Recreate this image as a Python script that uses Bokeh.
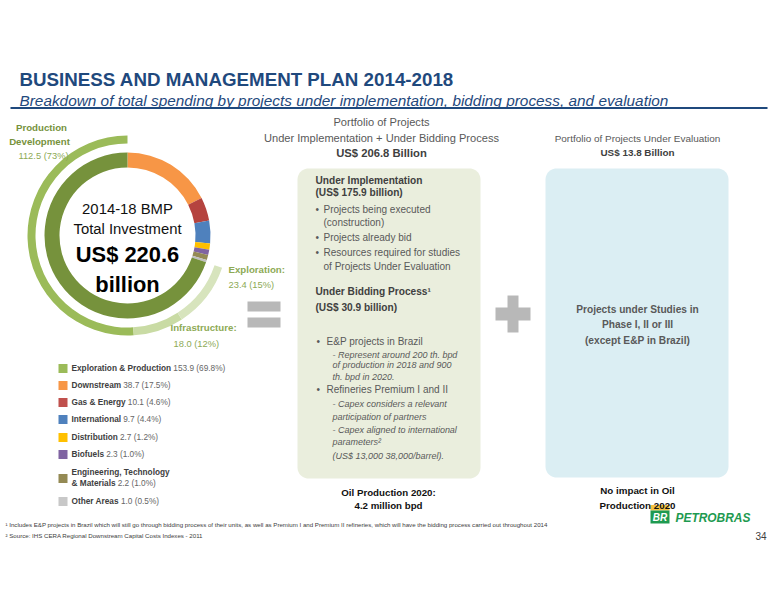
import numpy as np
from bokeh.plotting import figure
from bokeh.models import Range1d, Label, ColumnDataSource
from bokeh.embed import file_html
from bokeh.resources import INLINE

# ---------------- data ----------------
segments = ["Exploration & Production", "Downstream", "Gas & Energy", "International",
            "Distribution", "Biofuels", "Engineering, Technology & Materials", "Other Areas"]
values = [153.9, 38.7, 10.1, 9.7, 2.7, 2.3, 2.2, 1.0]
shares = ["69.8%", "17.5%", "4.6%", "4.4%", "1.2%", "1.0%", "1.0%", "0.5%"]
ring_colors = ["#76923C", "#F79646", "#B5433F", "#4F81BD", "#FFC000", "#8064A2", "#948A54", "#BFBFBF"]
legend_colors = ["#9BBB59", "#F79646", "#C0504D", "#4F81BD", "#FFC000", "#8064A2", "#948A54", "#C8C8C8"]

ep_parts = ["Production Development", "Infrastructure", "Exploration"]
ep_values = [112.5, 18.0, 23.4]
ep_shares = ["73%", "12%", "15%"]
ep_colors = ["#9BBB59", "#C9DBA4", "#D7E4BD"]

total_investment = 220.6
portfolio_impl_bid = 206.8
impl_value = 175.9
bid_value = 30.9
evaluation_value = 13.8

FONT = "Liberation Sans"
H = 600
W = 768

# ---------------- text metrics (Arial-compatible) for sizing ----------------
_UP = "ABCDEFGHIJKLMNOPQRSTUVWXYZ"
_LO = "abcdefghijklmnopqrstuvwxyz"
REG = {" ": 278, "!": 278, "$": 556, "%": 889, "&": 667, "(": 333, ")": 333, "+": 584, ",": 278,
       "-": 333, ".": 278, "/": 278, ":": 278, "\u2022": 350, "\u00b9": 333, "\u00b2": 333}
BOLD = {" ": 278, "!": 333, "$": 556, "%": 889, "&": 722, "(": 333, ")": 333, "+": 584, ",": 278,
        "-": 333, ".": 278, "/": 278, ":": 333, "\u2022": 350, "\u00b9": 333, "\u00b2": 333}
REG.update(zip(_UP, [667, 667, 722, 722, 667, 611, 778, 722, 278, 500, 667, 556, 833, 722, 778, 667,
                     778, 722, 667, 611, 722, 667, 944, 667, 667, 611]))
REG.update(zip(_LO, [556, 556, 500, 556, 556, 278, 556, 556, 222, 222, 500, 222, 833, 556, 556, 556,
                     556, 333, 500, 278, 556, 500, 722, 500, 500, 500]))
BOLD.update(zip(_UP, [722, 722, 722, 722, 667, 611, 778, 722, 278, 556, 722, 611, 833, 722, 778, 667,
                      778, 722, 667, 611, 722, 667, 944, 667, 667, 611]))
BOLD.update(zip(_LO, [556, 611, 556, 611, 556, 333, 611, 611, 278, 278, 556, 278, 889, 611, 611, 611,
                      611, 389, 556, 333, 611, 556, 778, 556, 556, 500]))


def em(s, bold=False):
    t = BOLD if bold else REG
    return sum(t.get(c, 556) for c in s) / 1000.0


def fit(s, width, bold=False, k=1.0):
    return round(width / em(s, bold) * k, 2)


def Y(y):
    return H - y


p = figure(width=W, height=584, x_range=Range1d(0, W), y_range=Range1d(16, 600),
           output_backend="svg", toolbar_location=None, x_axis_type=None, y_axis_type=None,
           min_border=0, background_fill_color="white", border_fill_color="white")
p.outline_line_color = None
p.xgrid.visible = False
p.ygrid.visible = False


def T(x, y, s, size=11, color="#595959", bold=False, italic=False, align="left",
      font=FONT, baseline="middle"):
    style = "normal"
    if bold and italic:
        style = "bold italic"
    elif bold:
        style = "bold"
    elif italic:
        style = "italic"
    p.add_layout(Label(x=x, y=Y(y), text=s, text_font=font, text_font_size=f"{size}px",
                       text_color=color, text_font_style=style, text_align=align,
                       text_baseline=baseline))


def rbox(x0, y0, x1, y1, r, color):
    top, bot = Y(y0), Y(y1)
    xs, ys = [], []
    for cx, cy, a0 in [(x1 - r, top - r, 0), (x0 + r, top - r, 90),
                       (x0 + r, bot + r, 180), (x1 - r, bot + r, 270)]:
        a = np.deg2rad(np.linspace(a0, a0 + 90, 12))
        xs.extend(cx + r * np.cos(a))
        ys.extend(cy + r * np.sin(a))
    p.patch(xs, ys, fill_color=color, line_color=None)


# ---------------- title ----------------
title = "BUSINESS AND MANAGEMENT PLAN 2014-2018"
subtitle = "Breakdown of total spending by projects under implementation, bidding process, and evaluation"
T(19, 79, title, size=fit(title, 418, True, 1.04), color="#1F497D", bold=True, baseline="alphabetic")
T(19, 100, subtitle, size=fit(subtitle, 636, False, 1.02), color="#1F497D", italic=True,
  baseline="alphabetic")
p.segment(x0=[10], y0=[Y(107.5)], x1=[767], y1=[Y(107.5)], line_color="#1F497D", line_width=2)

# ---------------- donut ----------------
cx, cy = 127, Y(235)
total = sum(values)
order = list(range(1, len(values))) + [0]
starts, ends, cols = [], [], []
cum = 0.0
for i in order:
    f = values[i] / total
    ends.append(np.deg2rad(90 - cum * 360))
    starts.append(np.deg2rad(90 - (cum + f) * 360))
    cols.append(ring_colors[i])
    cum += f
inner = ColumnDataSource(dict(s=starts, e=ends, c=cols))
p.annular_wedge(x=cx, y=cy, inner_radius=68, outer_radius=83, start_angle="s", end_angle="e",
                fill_color="c", line_color=None, source=inner)

o_starts, o_ends = [], []
cum = 0.0
for v in ep_values:
    f = v / total
    o_starts.append(np.deg2rad(90 + cum * 360))
    o_ends.append(np.deg2rad(90 + (cum + f) * 360))
    cum += f
outer = ColumnDataSource(dict(s=o_starts, e=o_ends, c=ep_colors))
p.annular_wedge(x=cx, y=cy, inner_radius=92, outer_radius=100, start_angle="s", end_angle="e",
                fill_color="c", line_color=None, source=outer)

c_reg = fit("Total Investment", 98, False, 1.12)
c_bold = fit("US$ 220.6", 94, True, 1.1)
T(127, 208, "2014-18 BMP", size=c_reg, color="#111111", align="center")
T(127, 228, "Total Investment", size=c_reg, color="#111111", align="center")
T(127, 254, f"US$ {total_investment}", size=c_bold, color="#000000", bold=True, align="center")
T(127, 284, "billion", size=c_bold, color="#000000", bold=True, align="center")

# ring labels
rl_b = fit("Infrastructure:", 63, True, 1.05)
rl_r = fit("18.0 (12%)", 43.5, False, 1.05)
T(41, 127, "Production", size=rl_b, color="#76923C", bold=True, align="center")
T(39, 141, "Development", size=rl_b, color="#76923C", bold=True, align="center")
T(43, 155, f"{ep_values[0]} ({ep_shares[0]})", size=rl_r, color="#8DAA55", align="center")
T(228, 269, f"{ep_parts[2]}:", size=rl_b, color="#8DAA55", bold=True)
T(228, 284, f"{ep_values[2]} ({ep_shares[2]})", size=rl_r, color="#8DAA55")
T(170, 327, f"{ep_parts[1]}:", size=rl_b, color="#8DAA55", bold=True)
T(173, 343, f"{ep_values[1]} ({ep_shares[1]})", size=rl_r, color="#8DAA55")

# ---------------- legend ----------------
row_y = [368, 385, 402, 419, 437, 454, 478, 501]
lg = fit("Exploration & Production", 96, True, 1.04)
p.rect(x=[62.5] * len(row_y), y=[Y(v) for v in row_y], width=9, height=9,
       fill_color=legend_colors, line_color=None)
for k, name in enumerate(segments):
    vtxt = f"{values[k]} ({shares[k]})"
    if k == 6:
        T(71, 472, "Engineering, Technology", size=lg, color="#404040", bold=True)
        T(71, 483, "& Materials", size=lg, color="#404040", bold=True)
        T(71 + em("& Materials", True) * lg + 2, 483, vtxt, size=lg, color="#666666")
    else:
        T(71, row_y[k], name, size=lg, color="#404040", bold=True)
        T(71 + em(name, True) * lg + 2, row_y[k], vtxt, size=lg, color="#666666")

# ---------------- = and + ----------------
p.quad(left=[247, 247], right=[280, 280], top=[Y(301), Y(317)], bottom=[Y(311), Y(327)],
       fill_color="#B8B8B8", line_color=None)
p.quad(left=[495, 507], right=[530, 518], top=[Y(307), Y(295)], bottom=[Y(320), Y(332)],
       fill_color="#B8B8B8", line_color=None)

# ---------------- middle panel ----------------
pr = fit("Under Implementation + Under Bidding Process", 228, False, 1.03)
pb = fit("US$ 206.8 Billion", 88, True, 1.03)
T(381, 121, "Portfolio of Projects", size=pr, color="#595959", align="center")
T(381, 137, "Under Implementation + Under Bidding Process", size=pr, color="#595959", align="center")
T(381, 152, f"US$ {portfolio_impl_bid} Billion", size=pb, color="#404040", bold=True, align="center")

rbox(297, 168, 480, 478, 11, "#EAEEDD")
G = "#595959"
hb = fit("Under Implementation", 103, True, 1.04)
bl = fit("Projects being executed", 103, False, 1.04)
bl2 = fit("Refineries Premium I and II", 117, False, 1.04)
it = fit("- Capex aligned to international", 122, False, 1.02)
T(315, 180, "Under Implementation", size=hb, color="#404040", bold=True)
T(315, 192, f"(US$ {impl_value} billion)", size=hb, color="#404040", bold=True)
T(315, 209, "\u2022", size=bl, color=G)
T(323, 209, "Projects being executed", size=bl, color=G)
T(323, 222, "(construction)", size=bl, color=G)
T(315, 237, "\u2022", size=bl, color=G)
T(323, 237, "Projects already bid", size=bl, color=G)
T(315, 252, "\u2022", size=bl, color=G)
T(323, 252, "Resources required for studies", size=bl, color=G)
T(323, 266, "of Projects Under Evaluation", size=bl, color=G)
T(315, 291, "Under Bidding Process\u00b9", size=hb, color="#404040", bold=True)
T(315, 307, f"(US$ {bid_value} billion)", size=hb, color="#404040", bold=True)
T(316, 341, "\u2022", size=bl2, color=G)
T(326, 341, "E&P  projects in Brazil", size=bl2, color=G)
T(332, 354, "- Represent around 200 th. bpd", size=it, color=G, italic=True)
T(332, 364, "of production in 2018 and 900", size=it, color=G, italic=True)
T(332, 376, "th. bpd in 2020.", size=it, color=G, italic=True)
T(316, 389, "\u2022", size=bl2, color=G)
T(326, 389, "Refineries Premium I and II", size=bl2, color=G)
T(332, 403, "- Capex considers a relevant", size=it, color=G, italic=True)
T(332, 416, "participation of partners", size=it, color=G, italic=True)
T(332, 429, "- Capex aligned to international", size=it, color=G, italic=True)
T(332, 441, "parameters\u00b2", size=it, color=G, italic=True)
T(332, 455, "(US$ 13,000  38,000/barrel).", size=it, color=G, italic=True)

ob = fit("Oil Production 2020:", 90, True, 1.05)
T(388, 492, "Oil Production 2020:", size=ob, color="#111111", bold=True, align="center")
T(388, 505, "4.2 million bpd", size=ob, color="#111111", bold=True, align="center")

# ---------------- right panel ----------------
er = fit("Portfolio of Projects Under Evaluation", 161, False, 1.03)
eb = fit("US$ 13.8 Billion", 72, True, 1.03)
T(637, 138, "Portfolio of Projects Under Evaluation", size=er, color="#595959", align="center")
T(637, 152, f"US$ {evaluation_value} Billion", size=eb, color="#404040", bold=True, align="center")
rbox(545, 168, 728, 477, 11, "#DBEEF3")
bb = fit("Projects under Studies in", 117, True, 1.05)
T(637, 309, "Projects under Studies in", size=bb, color="#595959", bold=True, align="center")
T(637, 324, "Phase I, II or III", size=bb, color="#595959", bold=True, align="center")
T(637, 340, "(except E&P in Brazil)", size=bb, color="#595959", bold=True, align="center")
nb = fit("No impact in Oil", 71, True, 1.05)
T(637, 490, "No impact in Oil", size=nb, color="#111111", bold=True, align="center")
T(637, 505, "Production 2020", size=nb, color="#111111", bold=True, align="center")

# ---------------- logo, footnotes ----------------
p.quad(left=[650], right=[669], top=[Y(504.5)], bottom=[Y(510)], fill_color="#F5C243", line_color=None)
p.quad(left=[650], right=[669], top=[Y(510)], bottom=[Y(523)], fill_color="#1E9A50", line_color=None)
T(659.5, 517, "BR", size=10, color="white", bold=True, italic=True, align="center")
T(675, 517, "PETROBRAS", size=fit("PETROBRAS", 75, True), color="#1E9A50", bold=True, italic=True)
T(766, 535, "34", size=10, color="#404040", align="right")

foot1 = ("\u00b9 Includes E&P projects in Brazil which will still go through bidding process of their units, "
         "as well as Premium I and Premium II refineries, which will have the bidding process carried out throughout 2014")
foot2 = "\u00b2 Source: IHS CERA Regional Downstream Capital Costs Indexes - 2011"
fs = fit(foot1, 543)
T(5, 524, foot1, size=fs, color="#404040")
T(5, 535, foot2, size=fs, color="#404040")

open("out.html", "w").write(file_html(p, INLINE))
